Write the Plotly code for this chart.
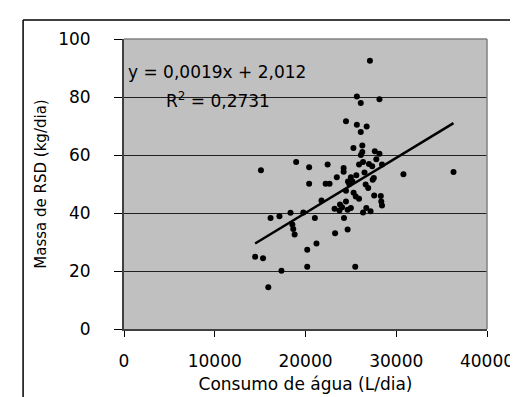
import plotly.graph_objects as go

# Consumo de água (L/dia)
consumo = [14450, 15320, 15090, 15900, 16150, 17130, 17350, 18350, 18550, 18650,
           18800, 18970, 19760, 20190, 20190, 20400, 20400, 21030, 21210, 21760,
           22440, 22220, 22650, 23200, 23260, 23450, 23740, 23800, 24200, 24200,
           24240, 24460, 24460, 24460, 24640, 24640, 24680, 24820, 25000, 25170,
           25280, 25480, 25540, 25660, 25660, 25900, 25900, 26090, 26090, 26100,
           26260, 26260, 26340, 26340, 26630, 26700, 26740, 26910, 26990, 27100,
           27170, 27350, 27530, 27400, 27570, 27640, 28150, 28150, 28430, 28300,
           28350, 28430, 30790, 36310, 25000, 24030, 25600, 26500, 27800, 25300]
# Massa de RSD (kg/dia)
massa = [24.9, 24.4, 54.7, 14.4, 38.3, 38.9, 20.1, 40.1, 36.0, 34.5,
         32.6, 57.6, 40.2, 27.3, 21.5, 55.8, 50.1, 38.3, 29.5, 44.3,
         56.7, 50.1, 50.1, 41.5, 33.0, 52.3, 40.9, 42.9, 55.5, 54.2,
         38.3, 44.0, 47.7, 71.6, 34.3, 41.1, 50.9, 50.0, 41.7, 50.9,
         62.4, 21.5, 45.7, 80.2, 70.4, 56.7, 44.9, 77.9, 67.9, 60.0,
         63.3, 61.0, 57.6, 40.2, 49.8, 41.7, 69.8, 48.6, 56.9, 92.5,
         40.6, 56.1, 52.1, 51.5, 46.0, 61.3, 60.4, 79.2, 56.7, 45.9,
         44.0, 42.6, 53.4, 54.1, 52.3, 42.0, 53.0, 54.0, 58.5, 47.0]

slope = 0.0019
intercept = 2.012
r2 = 0.2731

x_ticks = [0, 10000, 20000, 30000, 40000]
y_ticks = [0, 20, 40, 60, 80, 100]

x_fit = [min(consumo), max(consumo)]
y_fit = [slope * v + intercept for v in x_fit]

fig = go.Figure()
fig.add_trace(go.Scatter(x=consumo, y=massa, mode="markers",
                         marker=dict(color="black", size=6), showlegend=False))
fig.add_trace(go.Scatter(x=x_fit, y=y_fit, mode="lines",
                         line=dict(color="black", width=2.5), showlegend=False))

font_h = "DejaVu Sans"
fig.update_layout(
    width=518, height=397,
    margin=dict(l=116, r=32, t=31, b=76),
    paper_bgcolor="white", plot_bgcolor="#c0c0c0",
    xaxis=dict(range=[0, 40000], tickvals=x_ticks, ticktext=[str(v) for v in x_ticks],
               showgrid=False, zeroline=False, showline=True, linecolor="#404040",
               linewidth=2, ticks="outside", ticklen=6, tickcolor="black",
               ticklabelstandoff=10,
               tickfont=dict(family=font_h, size=17, color="black"),
               title=dict(text="Consumo de água (L/dia)", standoff=8,
                          font=dict(family=font_h, size=17, color="black"))),
    yaxis=dict(range=[0, 100], tickvals=y_ticks, showgrid=True, gridcolor="#202020",
               gridwidth=1, zeroline=False, showline=True, linecolor="#404040",
               linewidth=2, ticks="outside", ticklen=8, tickcolor="black",
               ticklabelstandoff=20,
               tickfont=dict(family=font_h, size=17, color="black"),
               title=dict(text="Massa de RSD (kg/dia)", standoff=8,
                          font=dict(family=font_h, size=15, color="black"))),
    annotations=[
        dict(x=0.005, y=0.885, xref="paper", yref="paper", xanchor="left", yanchor="middle",
             text="y = 0,0019x + 2,012", showarrow=False,
             font=dict(family=font_h, size=17, color="black")),
        dict(x=0.11, y=0.79, xref="paper", yref="paper", xanchor="left", yanchor="middle",
             text="R<sup>2</sup> = 0,2731", showarrow=False,
             font=dict(family=font_h, size=17, color="black")),
    ],
    shapes=[
        dict(type="line", xref="paper", yref="paper", x0=1, x1=1, y0=0, y1=1,
             line=dict(color="#808080", width=1.5)),
        dict(type="line", xref="paper", yref="paper", x0=0, x1=1, y0=1, y1=1,
             line=dict(color="#808080", width=1.5)),
        dict(type="line", xref="paper", yref="paper", x0=-0.278, x1=1.2, y0=1.0655, y1=1.0655,
             line=dict(color="black", width=1.5)),
        dict(type="line", xref="paper", yref="paper", x0=-0.278, x1=-0.278, y0=1.0655, y1=-0.3,
             line=dict(color="black", width=1.5)),
    ],
)

fig.write_html("out.html")
